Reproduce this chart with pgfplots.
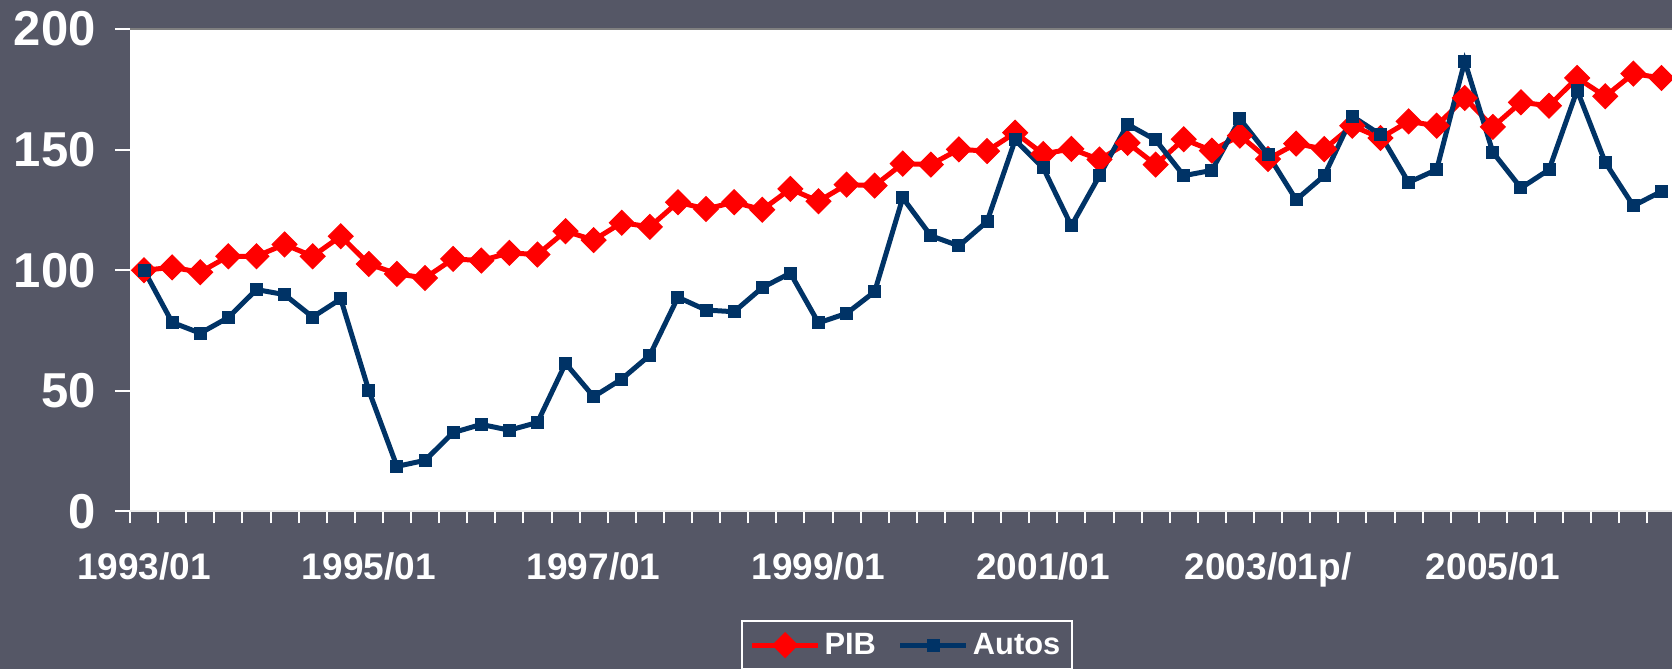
\documentclass[border=0pt]{standalone}
\usepackage{pgfplots}
\pgfplotsset{compat=1.18}
\usepackage{fontspec}
\setmainfont{Liberation Sans}
\definecolor{bg}{RGB}{85,87,102}
\definecolor{navy}{RGB}{0,51,102}
\definecolor{pibred}{RGB}{255,0,0}
\pgfplotstableread{
i v
0 100
1 101.2
2 99.2
3 105.8
4 105.8
5 110.7
6 105.8
7 114.1
8 102.6
9 98.5
10 96.8
11 104.7
12 104.0
13 107.2
14 106.5
15 116.2
16 112.5
17 119.7
18 118.0
19 128.2
20 125.4
21 128.2
22 125.1
23 133.7
24 128.6
25 135.5
26 135.1
27 144.2
28 143.8
29 150.1
30 149.4
31 157.0
32 148.2
33 150.3
34 145.9
35 152.8
36 143.8
37 154.3
38 149.6
39 155.8
40 146.1
41 152.5
42 150.2
43 159.9
44 154.8
45 161.7
46 159.9
47 171.4
48 159.4
49 169.6
50 168.2
51 179.7
52 172.1
53 181.5
54 179.7
}\pib
\pgfplotstableread{
i v
0 100
1 78.4
2 73.9
3 80.4
4 92.0
5 89.9
6 80.6
7 88.1
8 50.1
9 18.7
10 21.2
11 32.7
12 36.1
13 33.7
14 36.9
15 61.4
16 47.6
17 54.9
18 64.8
19 88.8
20 83.5
21 82.8
22 92.8
23 98.8
24 78.2
25 82.1
26 91.1
27 130.0
28 114.3
29 110.1
30 120.2
31 154.0
32 142.4
33 118.4
34 139.2
35 160.5
36 154.0
37 139.2
38 141.4
39 162.7
40 147.9
41 129.2
42 139.2
43 163.8
44 156.2
45 136.4
46 141.7
47 186.6
48 148.9
49 134.1
50 141.7
51 174.6
52 144.7
53 126.7
54 132.7
}\autos
\begin{document}
\begin{tikzpicture}
\fill[bg] (0,0) rectangle (836pt,334.5pt);
\path[use as bounding box] (0,0) rectangle (836pt,334.5pt);
\begin{axis}[
  at={(65pt,78.75pt)}, anchor=south west,
  scale only axis, width=772.75pt, height=241.25pt,
  xmin=-0.5, xmax=54.5, ymin=0, ymax=200,
  axis background/.style={fill=white},
  axis line style={draw=none},
  ytick={0,50,...,200},
  xtick={0,8,...,48},
  xticklabels={1993/01,1995/01,1997/01,1999/01,2001/01,2003/01p/,2005/01},
  minor xtick={-0.5,0.5,...,54.5},
  tick align=outside,
  ytick pos=left, xtick pos=bottom,
  major tick length=7.5pt,
  minor tick length=6pt,
  major x tick style={draw=none},
  minor x tick style={white, line width=1pt},
  major y tick style={white, line width=1pt},
  /pgf/number format/assume math mode=true,
  yticklabel style={text=white, font=\bfseries\fontsize{24.5}{24.5}\selectfont, anchor=east, inner sep=0pt, xshift=-9.5pt},
  xticklabel style={text=white, font=\bfseries\fontsize{18.5}{18.5}\selectfont, anchor=base, inner sep=0pt, yshift=-26.5pt},
  legend columns=2,
  legend style={at={(0.3951,-0.2249)}, anchor=north west, draw=white, line width=1pt, fill=none,
    text=white, font=\bfseries\fontsize{15.4}{15.4}\selectfont,
    inner xsep=4pt, inner ysep=4pt,
    /tikz/every even column/.append style={column sep=9pt}},
  legend image code/.code={\draw[mark repeat=2,mark phase=2,#1] plot coordinates {(0pt,0pt) (16.5pt,0pt) (33pt,0pt)};},
]
\addplot[pibred, line width=2.5pt, mark=square*, mark size=4.4pt, mark options={rotate=45, line width=0.5pt, fill=pibred}] table[x=i, y=v] {\pib};
\addlegendentry{PIB}
\addplot[navy, line width=2.5pt, mark=square*, mark size=3pt, mark options={line width=0.5pt, fill=navy}] table[x=i, y=v] {\autos};
\addlegendentry{Autos}
\draw[gray, line width=1pt] (rel axis cs:0,1) -- (rel axis cs:1,1);
\draw[white!85!gray, line width=1.2pt] (rel axis cs:0,0) -- (rel axis cs:1,0);
\end{axis}
\end{tikzpicture}
\end{document}
